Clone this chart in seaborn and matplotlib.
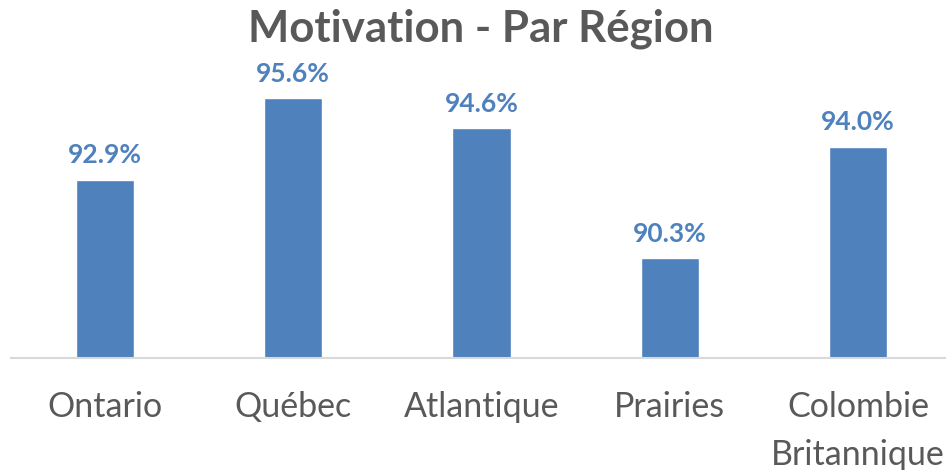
import matplotlib
matplotlib.use("Agg")
import pandas as pd
import seaborn as sns
import matplotlib.pyplot as plt

regions = ["Ontario", "Québec", "Atlantique", "Prairies", "Colombie\nBritannique"]
motivation = [92.9, 95.6, 94.6, 90.3, 94.0]

BAR = "#4f81bd"
GREY = "#595959"

sns.set_theme(style="white")
plt.rcParams["font.family"] = ["Lato", "DejaVu Sans"]

df = pd.DataFrame({"region": regions, "motivation": motivation})

fig = plt.figure(figsize=(9.46, 4.70), dpi=100)
ax = fig.add_axes([11 / 946, 112 / 470, 941 / 946, 302 / 470])

sns.barplot(data=df, x="region", y="motivation", color=BAR, saturation=1,
            width=0.31, ax=ax)
ax.set_ylim(87, 97)
ax.set_xlim(-0.5, 4.5)

for c in ax.containers:
    ax.bar_label(c, labels=[f"{v:.1f}%" for v in motivation], padding=9,
                 fontsize=19, fontweight="bold", color=BAR)

ax.set_xlabel("")
ax.set_ylabel("")
ax.set_yticks([])
ax.tick_params(axis="x", length=0, pad=24, labelsize=24.5, labelcolor=GREY)
for lbl in ax.get_xticklabels():
    lbl.set_linespacing(1.6)
for s in ["top", "left", "right"]:
    ax.spines[s].set_visible(False)
ax.spines["bottom"].set_color("#d9d9d9")
ax.spines["bottom"].set_linewidth(1.5)

fig.text(481 / 946, 1 - 29 / 470, "Motivation - Par Région", ha="center",
         va="center", fontsize=31.5, fontweight="bold", color=GREY)

fig.savefig("out.png", dpi=100)
